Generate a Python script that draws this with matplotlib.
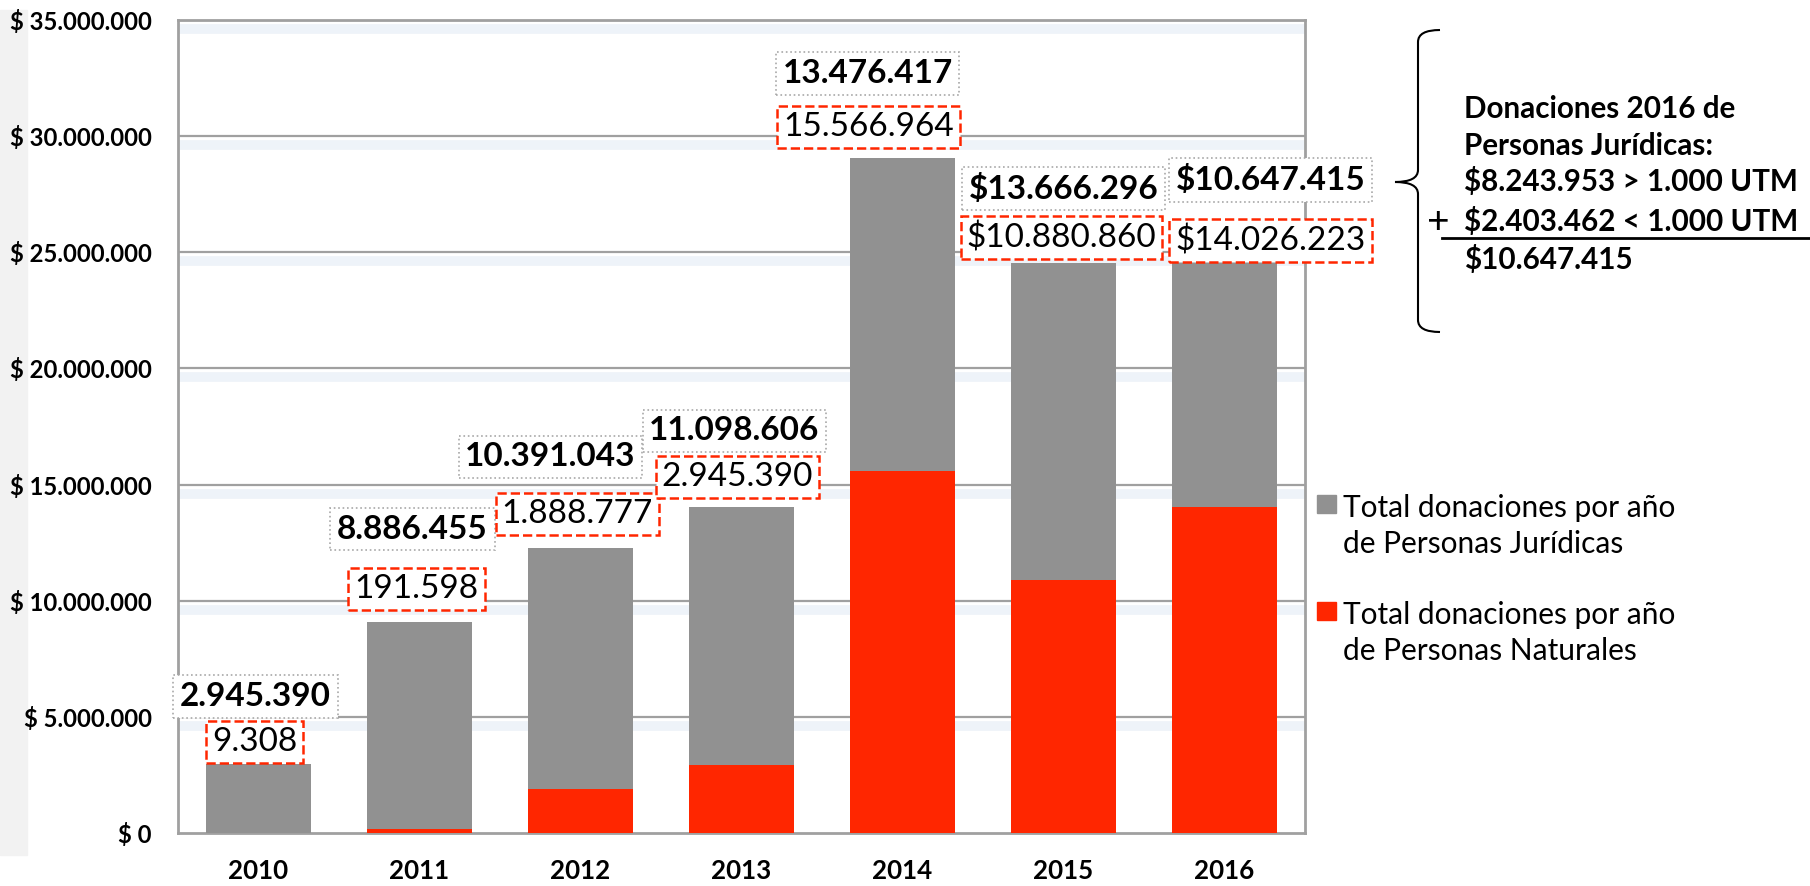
#stacked bar chart of yearly donations (personas naturales + personas juridicas)
import matplotlib
matplotlib.use("Agg")
import matplotlib.pyplot as plt
from matplotlib.patches import Rectangle, PathPatch
from matplotlib.path import Path
from matplotlib.ticker import FuncFormatter, MultipleLocator
from matplotlib.transforms import offset_copy
import numpy as np

plt.rcParams['font.family'] = ['Lato', 'DejaVu Sans']

#data
years = ["2010", "2011", "2012", "2013", "2014", "2015", "2016"]
naturales = [9308, 191598, 1888777, 2945390, 15566964, 10880860, 14026223]
juridicas = [2945390, 8886455, 10391043, 11098606, 13476417, 13666296, 10647415]
label_prefix = ["", "", "", "", "", "$", "$"]

legend_labels = [["Total donaciones por año", "de Personas Jurídicas"],
                 ["Total donaciones por año", "de Personas Naturales"]]
note_lines = ["Donaciones 2016 de", "Personas Jurídicas:",
              "$8.243.953 > 1.000 UTM", "$2.403.462 < 1.000 UTM", "$10.647.415"]

#label offsets in pixels from the top of each bar (red box, grey box)
red_off = [(-4, 22), (-3, 33), (-3, 34), (-4, 30), (-34, 31), (-2, 25), (46, 19)]
grey_off = [(-3, 68), (-7, 93), (-30, 91), (-7, 76), (-35, 85), (0, 74), (46, 80)]

GREY = "#919191"
RED = "#FF2600"
W, H = 1810, 886

def fx(px):
    return px / W

def fy(py):
    return 1 - py / H

fig = plt.figure(figsize=(18.10, 8.86), dpi=100)
ax = fig.add_axes([fx(178), fy(833), fx(1305) - fx(178), fy(20) - fy(833)])

#light strip at the left edge of the slide (behind everything)
strip = Rectangle((0, fy(855)), fx(27), fy(10) - fy(855),
                  transform=fig.transFigure, color="#F2F2F2", zorder=-5)
fig.patches.append(strip)

x = np.arange(len(years))
nat = np.array(naturales)
jur = np.array(juridicas)
totals = nat + jur

ax.bar(x, nat, 0.65, color=RED, zorder=3)
ax.bar(x, jur, 0.65, bottom=nat, color=GREY, zorder=3)

ax.set_xlim(-0.5, 6.5)
ax.set_ylim(0, 35000000)
ax.yaxis.set_major_locator(MultipleLocator(5000000))
ax.yaxis.set_major_formatter(FuncFormatter(lambda v, p: "$ " + f"{int(v):,}".replace(",", ".")))
ax.set_xticks(x, years)
ax.tick_params(axis="both", length=0)
ax.tick_params(axis="y", pad=19, labelsize=17.2)
ax.tick_params(axis="x", pad=19, labelsize=18.7)
for lab in ax.get_xticklabels() + ax.get_yticklabels():
    lab.set_fontweight("bold")

#grid lines with the soft blue shadow beneath
shadow = offset_copy(ax.get_yaxis_transform(), fig=fig, y=-9, units="dots")
for yv in np.arange(5000000, 35000001, 5000000):
    ax.plot([0, 1], [yv, yv], transform=shadow, color="#EEF3F9", lw=7, zorder=1,
            solid_capstyle="butt")
    ax.axhline(yv, color="#A0A0A0", lw=1.6, zorder=2)

for s in ax.spines.values():
    s.set_color("#A0A0A0")
    s.set_linewidth(2)

#value labels
for i in range(len(years)):
    ax.annotate(label_prefix[i] + f"{naturales[i]:,}".replace(",", "."),
                (x[i], totals[i]), xytext=red_off[i], textcoords="offset pixels",
                ha="center", va="center", fontsize=24, zorder=6,
                bbox=dict(boxstyle="square,pad=0.18", fc="white", ec=RED, ls="--", lw=1.8))
    ax.annotate(label_prefix[i] + f"{juridicas[i]:,}".replace(",", "."),
                (x[i], totals[i]), xytext=grey_off[i], textcoords="offset pixels",
                ha="center", va="center", fontsize=24, fontweight="bold", zorder=5,
                bbox=dict(boxstyle="square,pad=0.2", fc="white", ec="#A8A8A8", ls=":", lw=1.2))

#legend drawn by hand so the square sits on the first line
for k, (col, lines) in enumerate(zip([GREY, RED], legend_labels)):
    top = 495 + k * 107
    fig.patches.append(Rectangle((fx(1317), fy(top + 18)), fx(19), fy(top) - fy(top + 18),
                                 transform=fig.transFigure, color=col))
    for j, line in enumerate(lines):
        fig.text(fx(1343), fy(top + 22 + j * 36), line, fontsize=21.5, va="baseline", ha="left")

#brace and note about 2016
verts = [(1440, 30), (1418, 30), (1418, 42), (1418, 170), (1418, 182), (1395, 182),
         (1418, 182), (1418, 194), (1418, 320), (1418, 332), (1440, 332)]
codes = [Path.MOVETO, Path.CURVE3, Path.CURVE3, Path.LINETO, Path.CURVE3, Path.CURVE3,
         Path.CURVE3, Path.CURVE3, Path.LINETO, Path.CURVE3, Path.CURVE3]
brace = Path([(fx(a), fy(b)) for a, b in verts], codes)
fig.patches.append(PathPatch(brace, transform=fig.transFigure, fc="none", ec="black", lw=1.5))

baselines = [118, 155, 191, 231, 269]
for line, b in zip(note_lines, baselines):
    fig.text(fx(1464), fy(b), line, fontsize=21.3, fontweight="bold", va="baseline", ha="left")
fig.text(fx(1438), fy(222), "+", fontsize=28, va="center", ha="center")
fig.add_artist(plt.Line2D([fx(1442), 1], [fy(238), fy(238)], transform=fig.transFigure,
                          color="black", lw=2))

fig.savefig("out.png", dpi=100)
